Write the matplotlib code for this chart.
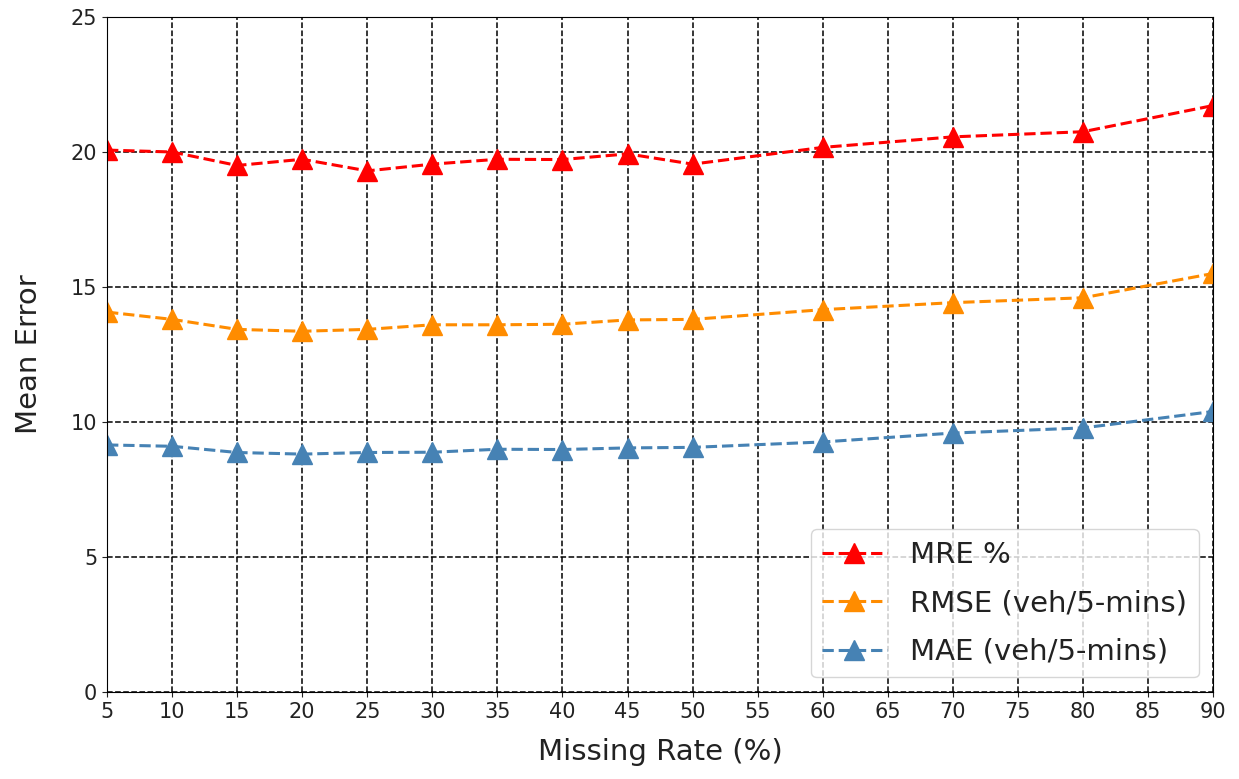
import matplotlib
matplotlib.use("Agg")
import matplotlib.pyplot as plt

missing_rate = [5, 10, 15, 20, 25, 30, 35, 40, 45, 50, 60, 70, 80, 90]
mre = [20.07, 20.0, 19.5, 19.73, 19.3, 19.55, 19.73, 19.72, 19.93, 19.55, 20.17, 20.56, 20.75, 21.72]
rmse = [14.07, 13.8, 13.43, 13.36, 13.43, 13.6, 13.6, 13.62, 13.78, 13.8, 14.16, 14.42, 14.6, 15.5]
mae = [9.15, 9.1, 8.87, 8.81, 8.87, 8.88, 8.99, 8.98, 9.04, 9.06, 9.26, 9.59, 9.78, 10.39]

xticks = list(range(5, 95, 5))
yticks = [0, 5, 10, 15, 20, 25]

fig = plt.figure(figsize=(12.39, 7.79), dpi=100)
ax = fig.add_axes([0.0864, 0.1117, 0.8927, 0.8665])

ax.plot(missing_rate, mre, '--^', color='red', linewidth=2.2, markersize=14, label='MRE %')
ax.plot(missing_rate, rmse, '--^', color='darkorange', linewidth=2.2, markersize=14, label='RMSE (veh/5-mins)')
ax.plot(missing_rate, mae, '--^', color='steelblue', linewidth=2.2, markersize=14, label='MAE (veh/5-mins)')

ax.set_xlim(5, 90)
ax.set_ylim(0, 25)
ax.set_xticks(xticks)
ax.set_yticks(yticks)
ax.tick_params(labelsize=15, colors='#222222')
ax.set_xlabel("Missing Rate (%)", fontsize=21, color='#222222', labelpad=12)
ax.set_ylabel("Mean Error", fontsize=21, color='#222222', labelpad=20)
ax.grid(True, color='black', linestyle='--', linewidth=1.1)
leg = ax.legend(loc='lower right', fontsize=21, handlelength=2.2, labelspacing=0.7)
for t in leg.get_texts():
    t.set_color('#222222')

fig.savefig("out.png", dpi=100)
